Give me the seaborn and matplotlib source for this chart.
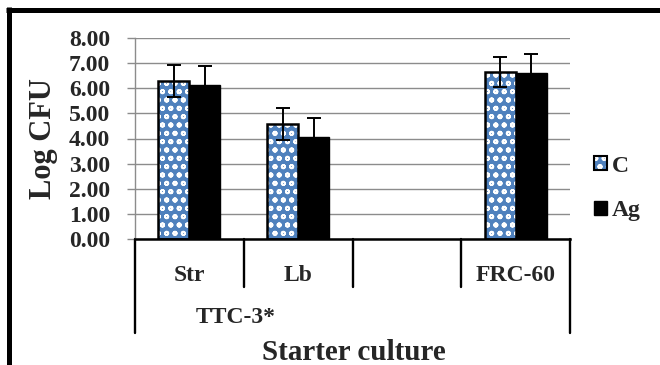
import matplotlib
matplotlib.use("Agg")
import numpy as np
import pandas as pd
import matplotlib.pyplot as plt
import seaborn as sns
from matplotlib.lines import Line2D
from matplotlib.patches import Patch, Rectangle
import matplotlib.transforms as mtransforms

# ---- data ----
categories = ["Str", "Lb", "FRC-60"]
slot_order = ["Str", "Lb", " ", "FRC-60"]
series = ["C", "Ag"]
c_values = [6.29, 4.58, 6.63]
ag_values = [6.12, 4.05, 6.59]
c_errors = [0.65, 0.62, 0.60]
ag_errors = [0.75, 0.76, 0.78]
y_ticks = [0, 1, 2, 3, 4, 5, 6, 7, 8]
group_label = "TTC-3*"
x_title = "Starter culture"
y_title = "Log CFU"

BLUE = "#4F81BD"

sns.set_theme(style="white")
plt.rcParams['font.family'] = ['Liberation Serif', 'DejaVu Serif']
plt.rcParams['font.weight'] = 'bold'
plt.rcParams['hatch.linewidth'] = 1.3

df = pd.DataFrame({
    "cat": categories * 2,
    "series": ["C"] * len(categories) + ["Ag"] * len(categories),
    "value": c_values + ag_values,
})
err_map = {("C", c): e for c, e in zip(categories, c_errors)}
err_map.update({("Ag", c): e for c, e in zip(categories, ag_errors)})

fig = plt.figure(figsize=(6.6, 3.65), dpi=100)
ax = fig.add_axes([135 / 660, 126 / 365, 435 / 660, 201 / 365])
ax.set_axisbelow(True)
ax.yaxis.grid(True, color="#8c8c8c", lw=1.0)

sns.barplot(data=df, x="cat", y="value", hue="series", order=slot_order,
            hue_order=series, palette={"C": BLUE, "Ag": "black"},
            width=0.57, errorbar=None, ax=ax, legend=False, saturation=1)

for s, cont in zip(series, ax.containers):
    for bar in cont:
        xc = bar.get_x() + bar.get_width() / 2
        h = bar.get_height()
        if np.isnan(h):
            continue
        cat = slot_order[int(round(xc))]
        if s == "C":
            bar.set_hatch("oo")
            bar.set_edgecolor("white")
            bar.set_linewidth(0)
            ax.add_patch(Rectangle((bar.get_x(), bar.get_y()), bar.get_width(), h,
                                   fill=False, ec="black", lw=1.8, zorder=bar.get_zorder() + 0.1))
        else:
            bar.set_edgecolor("black")
            bar.set_linewidth(1.0)
        ax.errorbar(xc, h, yerr=err_map[(s, cat)], fmt="none", ecolor="black",
                    elinewidth=1.4, capsize=5, capthick=1.4, zorder=5)

ax.set_ylim(0, 8)
ax.set_xlim(-0.5, 3.5)
ax.set_yticks(y_ticks)
ax.set_yticklabels([f"{t:.2f}" for t in y_ticks], fontsize=17, fontweight="bold")
ax.set_xticks(range(len(slot_order)))
ax.set_xticklabels(slot_order, fontsize=17, fontweight="bold")
ax.tick_params(axis="y", length=5.8, width=1, color="#8c8c8c", pad=12, left=True, direction="out")
ax.tick_params(axis="x", length=0, pad=19)
ax.set_xlabel("")
ax.set_ylabel("")
for sp in ["top", "right"]:
    ax.spines[sp].set_visible(False)
ax.spines["left"].set_color("#8c8c8c")
ax.spines["left"].set_linewidth(1.0)
ax.spines["bottom"].set_color("black")
ax.spines["bottom"].set_linewidth(1.8)

trans = mtransforms.blended_transform_factory(ax.transData, ax.transAxes)
for i in range(len(slot_order) + 1):
    xb = i - 0.5
    y_end = -0.468 if i in (0, len(slot_order)) else -0.239
    ax.add_line(Line2D([xb, xb], [0, y_end], transform=trans, color="black",
                       lw=1.7, clip_on=False))

ax.text(0.43, -0.39, group_label, transform=trans, ha="center", va="center",
        fontsize=17, fontweight="bold")

fig.text(354 / 660, 5 / 365, x_title, ha="center", va="baseline",
         fontsize=21, fontweight="bold")
fig.text(43 / 660, (365 - 138.5) / 365, y_title, ha="center", va="center",
         rotation=90, fontsize=22, fontweight="bold")

handles = [
    (Patch(facecolor=BLUE, edgecolor="white", hatch="oo", lw=0),
     Patch(facecolor="none", edgecolor="black", lw=1.5)),
    Patch(facecolor="black", edgecolor="black"),
]
fig.legend(handles, series, loc="center left",
           bbox_to_anchor=(580 / 660, (365 - 188.5) / 365), frameon=False,
           prop={"family": ["Liberation Serif"], "weight": "bold", "size": 17},
           handlelength=0.55, handleheight=0.55, handletextpad=0.2,
           labelspacing=1.0, borderpad=0.1)

# outer frame (top and left)
fig.add_artist(Line2D([6 / 660, 1], [(365 - 9.5) / 365] * 2, transform=fig.transFigure,
                      color="black", lw=3.6, solid_capstyle="butt"))
fig.add_artist(Line2D([8.5 / 660] * 2, [0, (365 - 7) / 365], transform=fig.transFigure,
                      color="black", lw=3.6, solid_capstyle="butt"))

fig.savefig("out.png", dpi=100)
